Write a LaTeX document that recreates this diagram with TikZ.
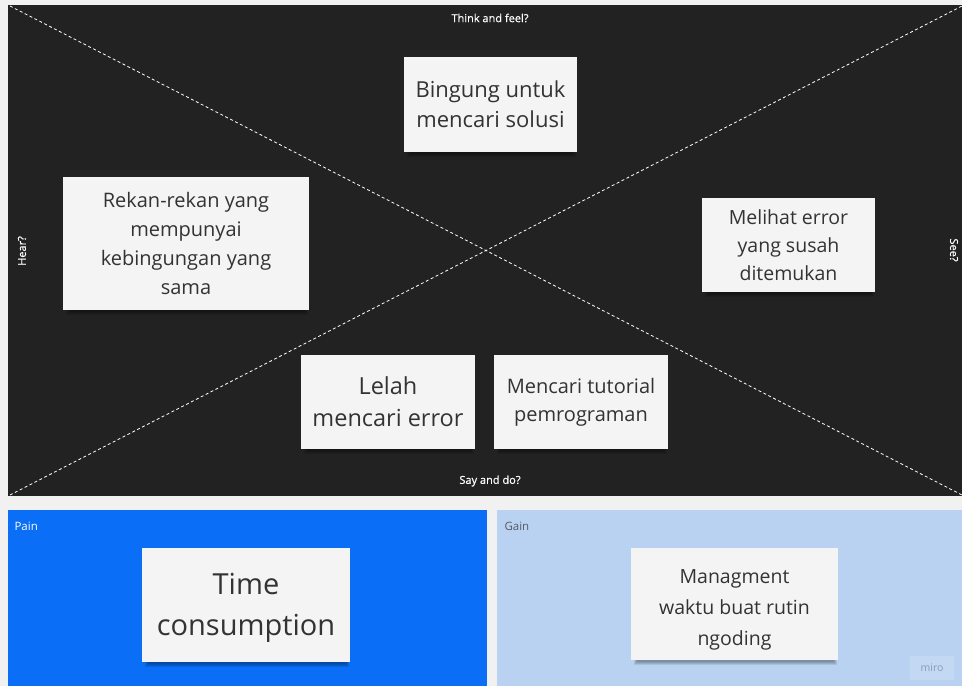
\documentclass[tikz,border=0pt]{standalone}
\usepackage{fontspec}
\setmainfont{Open Sans}
\newfontfamily\labelfont[FakeBold=0.6]{Open Sans}
\begin{document}
\definecolor{pagebg}{HTML}{F1F1F1}
\definecolor{boarddark}{HTML}{222222}
\definecolor{painblue}{HTML}{0A6EF7}
\definecolor{gainblue}{HTML}{B9D2F2}
\definecolor{notefill}{HTML}{F4F4F4}
\definecolor{notetext}{HTML}{333333}
\definecolor{gaintext}{HTML}{555A63}
\begin{tikzpicture}[x=1pt,y=-1pt,
  note/.style={fill=notefill, draw=none, inner sep=0pt, align=center,
    text=notetext},
  shade/.style={fill=black, opacity=0.09},
  diag/.style={white, line width=0.8pt, dash pattern=on 3pt off 2.5pt},
  boardlabel/.style={text=white, font=\labelfont\fontsize{11}{13}\selectfont},
  panellabel/.style={font=\fontsize{11.5}{13}\selectfont, anchor=west}]
% page and panels
\fill[pagebg] (0,0) rectangle (962,686);
\useasboundingbox (0,0) rectangle (962,686);
\fill[boarddark] (8,5) rectangle (962,496);
\fill[painblue] (8,510) rectangle (487,686);
\fill[gainblue] (497,510) rectangle (962,686);
% empathy-map diagonals
\coordinate (tl) at (10,6);
\coordinate (br) at (962,495);
\coordinate (bl) at (10,495);
\coordinate (tr) at (962,6);
\draw[diag] (tl) -- (br);
\draw[diag] (bl) -- (tr);
% quadrant labels
\node[boardlabel] (think) at (490,18) {Think and feel?};
\node[boardlabel] (say) at (490,481) {Say and do?};
\node[boardlabel, rotate=90] (hear) at (22,251) {Hear?};
\node[boardlabel, rotate=-90] (see) at (954,250) {See?};
\node[panellabel, text=white] (pain) at (11,526) {Pain};
\node[panellabel, text=gaintext] (gain) at (501,526) {Gain};
% soft sticky-note shadows
\foreach \cx/\cy/\w/\h in {490.5/104.5/173/95, 186/243.5/246/133, 788.5/245/173/94,
  388/402/174/94, 581/402/174/94, 246/605/208/114, 734.5/604/207/112}{
  \foreach \s in {0,1,2,3}{
    \fill[shade] (\cx-\w/2+6-\s,\cy-\h/2+6) rectangle (\cx+\w/2-4+\s,\cy+\h/2+2+\s);
  }
}
% sticky notes
\node[note, minimum width=173pt, minimum height=95pt,
  font=\fontsize{22}{30}\selectfont] (bingung) at (490.5,104.5)
  {Bingung untuk\\mencari solusi};
\node[note, minimum width=246pt, minimum height=133pt,
  font=\fontsize{20}{29}\selectfont] (rekan) at (186,243.5)
  {Rekan-rekan yang\\mempunyai\\kebingungan yang\\sama};
\node[note, minimum width=173pt, minimum height=94pt,
  font=\fontsize{19.5}{28}\selectfont] (melihat) at (788.5,245)
  {Melihat error\\yang susah\\ditemukan};
\node[note, minimum width=174pt, minimum height=94pt,
  font=\fontsize{23.5}{32}\selectfont] (lelah) at (388,402)
  {Lelah\\mencari error};
\node[note, minimum width=174pt, minimum height=94pt,
  font=\fontsize{20}{28}\selectfont] (tutorial) at (581,402)
  {Mencari tutorial\\pemrograman};
\node[note, minimum width=208pt, minimum height=114pt,
  font=\fontsize{29}{41}\selectfont] (time) at (246,605)
  {\rule{0pt}{27pt}Time\\consumption};
\node[note, minimum width=207pt, minimum height=112pt,
  font=\fontsize{19.5}{31}\selectfont] (managment) at (734.5,604)
  {\rule{0pt}{25pt}Managment\\waktu buat rutin\\ngoding};
% watermark
\node[fill=white, fill opacity=0.15, text opacity=1, text=gaintext!45!gainblue,
  minimum width=44pt, minimum height=24pt, inner sep=0pt,
  font=\fontsize{10.5}{12}\selectfont] (miro) at (932,668) {miro};
\end{tikzpicture}
\end{document}
